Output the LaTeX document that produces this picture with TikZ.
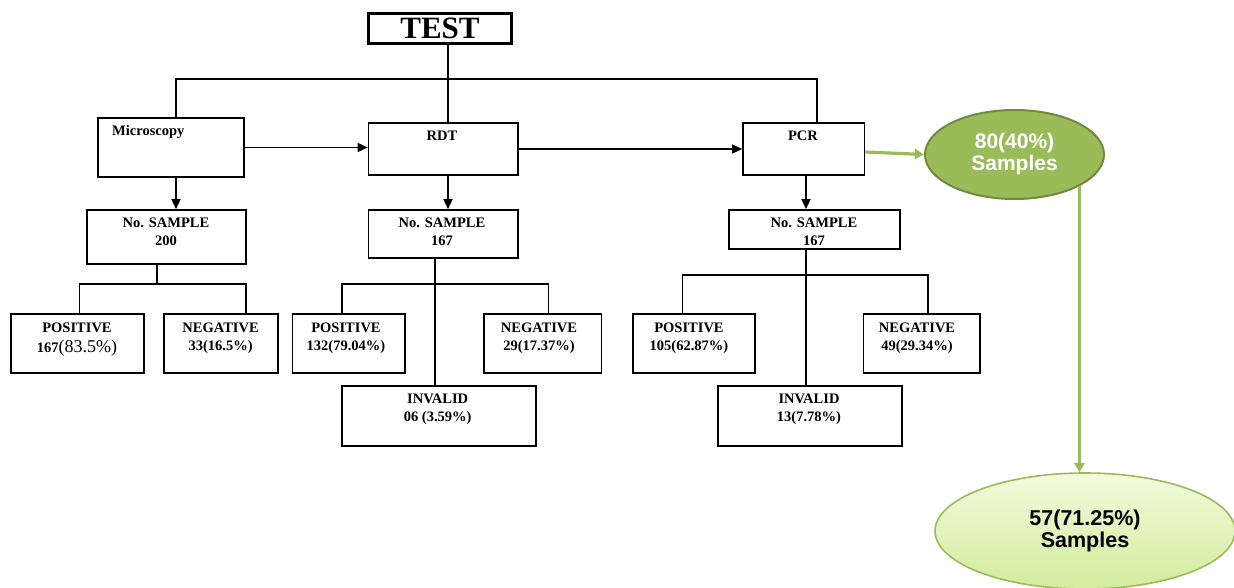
\documentclass[tikz,border=0pt]{standalone}
\usepackage{fontspec}
\setmainfont{Liberation Serif}
\newfontfamily\gsans{Liberation Sans}
\usetikzlibrary{shapes.geometric,arrows.meta}
\definecolor{gfill}{HTML}{9BBB59}
\definecolor{gdark}{HTML}{71893F}
\definecolor{gtop}{HTML}{F2FBDC}
\definecolor{gbot}{HTML}{D2EC9C}
\begin{document}
\begin{tikzpicture}[x=1pt,y=-1pt,
  box/.style={draw, line width=1.7pt, inner sep=0pt},
  txt/.style={font=\fontsize{14.5}{18}\selectfont\bfseries, align=center, inner sep=0pt},
  arr/.style={line width=1.7pt, -{Triangle[length=10pt,width=9pt]}},
  ln/.style={line width=1.7pt},
  garr/.style={draw=gfill, line width=3.2pt, -{Triangle[length=9pt,width=10pt]}},
]
\useasboundingbox (0,0) rectangle (1234,588);

% boxes
\node[box, line width=3.2pt, minimum width=143pt, minimum height=30pt, font=\fontsize{31}{31}\selectfont\bfseries] (test) at (440,28.5) {TEST};
\node[box, minimum width=146pt, minimum height=59pt] (micro) at (171,147.5) {};
\node[box, minimum width=149.5pt, minimum height=52pt] (rdt) at (443.25,149) {};
\node[box, minimum width=121.5pt, minimum height=52pt] (pcr) at (803.75,149) {};
\node[box, minimum width=159pt, minimum height=54pt] (ns1) at (166.5,237) {};
\node[box, minimum width=149.5pt, minimum height=48pt] (ns2) at (443.25,234) {};
\node[box, minimum width=171pt, minimum height=39pt] (ns3) at (814.5,229.5) {};
\node[box, minimum width=133pt, minimum height=59pt] (pos1) at (77.5,343.5) {};
\node[box, minimum width=114pt, minimum height=59pt] (neg1) at (221,343.5) {};
\node[box, minimum width=112.4pt, minimum height=59pt] (pos2) at (348.8,343.5) {};
\node[box, minimum width=117.5pt, minimum height=59pt] (neg2) at (542.75,343.5) {};
\node[box, minimum width=194pt, minimum height=60pt] (inv2) at (439,416) {};
\node[box, minimum width=122pt, minimum height=59pt] (pos3) at (694,343.5) {};
\node[box, minimum width=116.4pt, minimum height=59pt] (neg3) at (921.8,343.5) {};
\node[box, minimum width=184pt, minimum height=60pt] (inv3) at (810,416) {};

% texts
\node[txt, anchor=west] (microt) at (112,132) {Microscopy};
\node[txt] (rdtt) at (442,136) {RDT};
\node[txt] (pcrt) at (803,136) {PCR};
\node[txt] (ns1t) at (166,232) {No. SAMPLE\\200};
\node[txt] (ns2t) at (442,232) {No. SAMPLE\\167};
\node[txt] (ns3t) at (814,232) {No. SAMPLE\\167};
\node[txt] (pos1t) at (77,340) {POSITIVE\\[2pt]167{\mdseries\fontsize{18}{18}\selectfont(83.5\%)}};
\node[txt] (neg1t) at (220.6,338) {NEGATIVE\\33(16.5\%)};
\node[txt] (pos2t) at (346,338) {POSITIVE\\132(79.04\%)};
\node[txt] (neg2t) at (539,338) {NEGATIVE\\29(17.37\%)};
\node[txt] (inv2t) at (437.7,409) {INVALID\\06 (3.59\%)};
\node[txt] (pos3t) at (689,338) {POSITIVE\\105(62.87\%)};
\node[txt] (neg3t) at (917,338) {NEGATIVE\\49(29.34\%)};
\node[txt] (inv3t) at (809,409) {INVALID\\13(7.78\%)};

% ellipses
\node[ellipse, draw=gdark, line width=2pt, fill=gfill, minimum width=179pt, minimum height=89pt, inner sep=0pt, text=white, font=\gsans\bfseries\fontsize{21}{22}\selectfont, align=center] (e1) at (1014.5,154.5) {80(40\%)\\Samples};
\node[ellipse, draw=gfill, line width=1.6pt, top color=gtop, bottom color=gbot, minimum width=300pt, minimum height=116pt, inner sep=0pt, text=black, font=\gsans\bfseries\fontsize{21.5}{22}\selectfont, align=center] (e2) at (1085,531) {57(71.25\%)\\Samples};

% top connectors
\coordinate (jl) at (176,79);
\coordinate (jr) at (817,79);
\coordinate (jm) at (448,79);
\draw[ln] (test.south -| jm) -- (rdt.north -| jm);
\draw[ln] (micro.north -| jl) -- (jl) -- (jr) -- (pcr.north -| jr);
\draw[arr] (micro.east) -- (micro.east -| rdt.west);
\draw[arr] (rdt.east) -- (pcr.west);

\coordinate (a1) at (176,0);
\coordinate (a2) at (448,0);
\coordinate (a3) at (806,0);
\draw[arr] (micro.south -| a1) -- (ns1.north -| a1);
\draw[arr] (rdt.south -| a2) -- (ns2.north -| a2);
\draw[arr] (pcr.south -| a3) -- (ns3.north -| a3);

% branches
\coordinate (b1) at (157,284);
\coordinate (bl1) at (79.5,284);
\coordinate (br1) at (246,284);
\draw[ln] (ns1.south -| b1) -- (b1);
\draw[ln] (pos1.north -| bl1) -- (bl1) -- (br1) -- (neg1.north -| br1);

\coordinate (c2) at (435,284);
\coordinate (bl2) at (342,284);
\coordinate (br2) at (548.5,284);
\draw[ln] (ns2.south -| c2) -- (inv2.north -| c2);
\draw[ln] (pos2.north -| bl2) -- (bl2) -- (br2) -- (neg2.north -| br2);

\coordinate (c3) at (806,275);
\coordinate (bl3) at (682.5,275);
\coordinate (br3) at (928,275);
\draw[ln] (ns3.south -| c3) -- (inv3.north -| c3);
\draw[ln] (pos3.north -| bl3) -- (bl3) -- (br3) -- (neg3.north -| br3);

% green connectors
\draw[garr] ([yshift=-3pt]pcr.east) -- (e1.west);
\draw[garr] (e1.-26) -- (e1.-26 |- e2.north);
\end{tikzpicture}
\end{document}
